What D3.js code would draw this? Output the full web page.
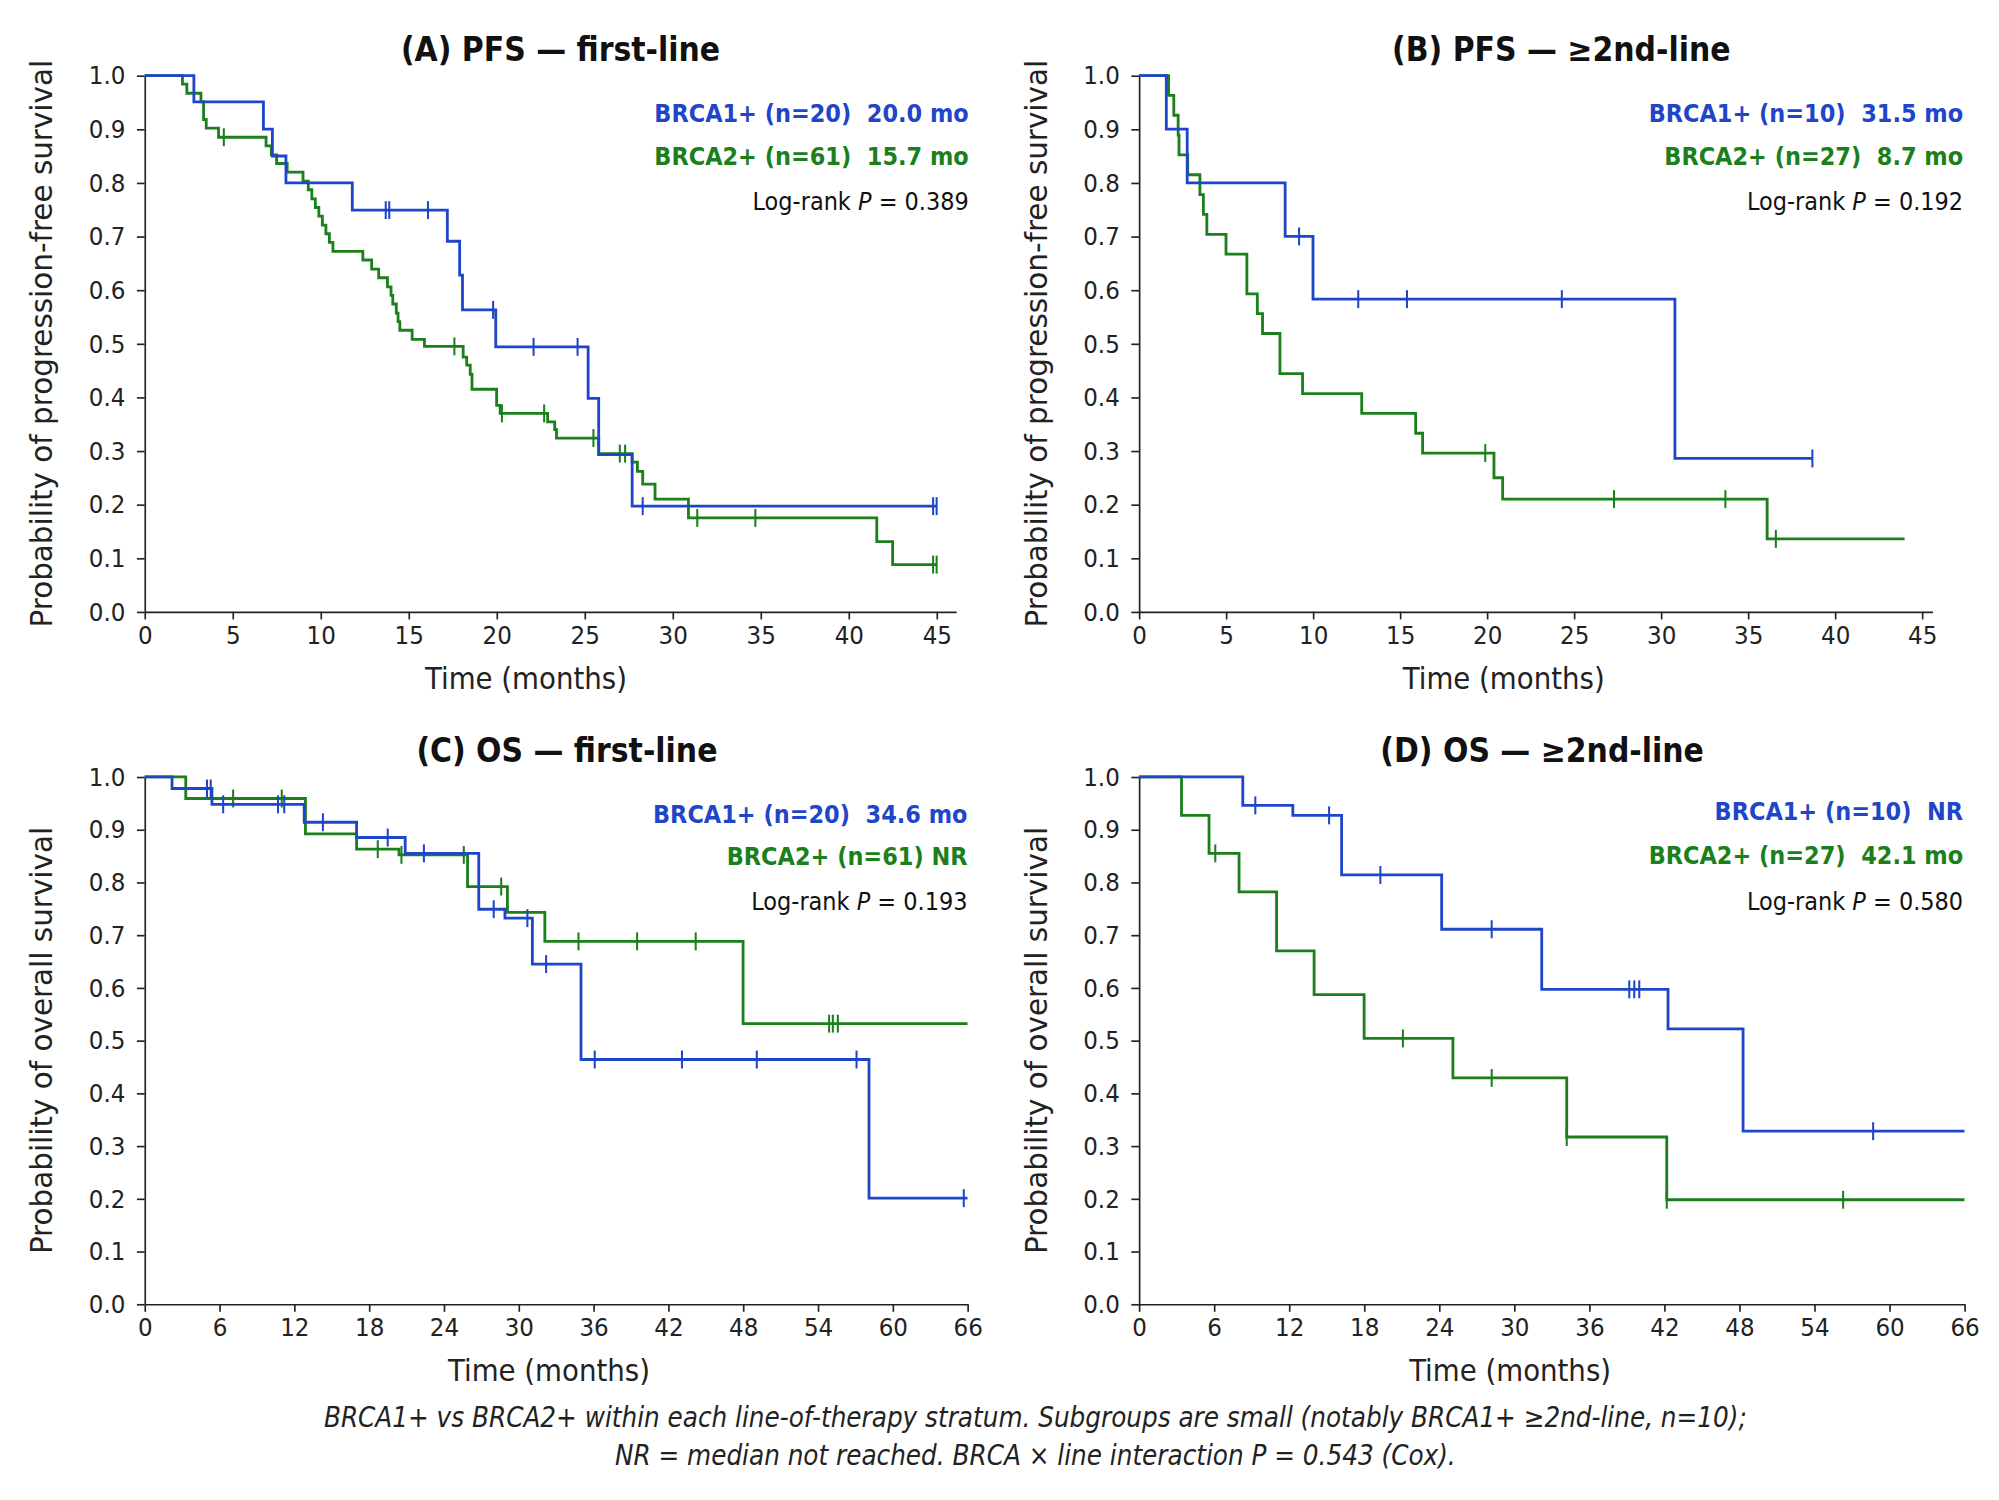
<!DOCTYPE html>
<html><head><meta charset="utf-8">
<script src="https://cdn.jsdelivr.net/npm/d3@7"></script>
<style>body{margin:0;background:#fff}text{font-family:"DejaVu Sans Condensed","DejaVu Sans",sans-serif}</style>
</head><body>
<script>
// step points [time, survival] and censor times
var pfs1Blue = [[0,1],[2.8,0.951],[6.75,0.90],[7.26,0.85],[8.03,0.80],[11.8,0.749],[17.2,0.691],[17.9,0.628],[18.06,0.563],[19.95,0.494],[25.2,0.398],[25.8,0.293],[27.7,0.197],[45,0.197]];
var pfs1BlueCens = [13.7,13.9,16.1,19.8,22.1,24.6,28.3,44.8,45.0];
var pfs1Green = [[0,1],[2.15,0.984],[2.4,0.967],[3.2,0.951],[3.35,0.918],[3.5,0.902],[4.2,0.885],[6.9,0.869],[7.2,0.852],[7.5,0.836],[8.1,0.82],[9.0,0.803],[9.3,0.787],[9.5,0.77],[9.7,0.754],[9.9,0.738],[10.1,0.721],[10.3,0.705],[10.5,0.689],[10.7,0.672],[12.4,0.656],[12.9,0.639],[13.3,0.623],[13.8,0.606],[14.0,0.59],[14.1,0.574],[14.3,0.557],[14.4,0.541],[14.5,0.525],[15.2,0.508],[15.9,0.495],[18.1,0.475],[18.3,0.46],[18.5,0.443],[18.6,0.415],[20.0,0.385],[20.2,0.37],[22.9,0.354],[23.3,0.34],[23.4,0.324],[25.8,0.295],[27.7,0.279],[28.0,0.262],[28.3,0.238],[29.0,0.21],[30.9,0.175],[41.6,0.131],[42.5,0.088],[45,0.088]];
var pfs1GreenCens = [4.5,17.6,20.3,22.7,25.5,27.0,27.3,31.4,34.7,44.8,45.0];

var pfs2Blue = [[0,1],[1.57,0.9],[2.77,0.8],[8.4,0.7],[10.0,0.583],[30.8,0.286],[38.7,0.286]];
var pfs2BlueCens = [9.2,12.6,15.4,24.3,38.7];
var pfs2Green = [[0,1],[1.7,0.963],[2.0,0.926],[2.25,0.889],[2.3,0.852],[2.8,0.815],[3.5,0.778],[3.7,0.741],[3.9,0.704],[5.0,0.667],[6.2,0.593],[6.8,0.556],[7.1,0.519],[8.1,0.444],[9.4,0.407],[12.8,0.37],[15.9,0.333],[16.3,0.296],[20.4,0.25],[20.9,0.21],[36.1,0.136],[44.0,0.136]];
var pfs2GreenCens = [19.9,27.3,33.7,36.6];

var os1Blue = [[0,1],[2.2,0.978],[5.4,0.948],[12.8,0.914],[17.0,0.885],[20.9,0.855],[26.8,0.749],[28.9,0.732],[31.1,0.645],[35.0,0.464],[58.1,0.201],[66,0.201]];
var os1BlueCens = [5.0,5.3,6.3,10.7,11.2,14.3,19.5,22.4,28.0,30.7,32.2,36.1,43.1,49.1,57.1,65.7];
var os1Green = [[0,1],[3.3,0.959],[12.9,0.892],[17.0,0.863],[20.4,0.852],[25.9,0.792],[29.1,0.743],[32.1,0.688],[48.0,0.532],[66,0.532]];
var os1GreenCens = [7.1,11.0,18.7,20.6,25.6,28.6,34.8,39.5,44.2,54.9,55.2,55.6];

var os2Blue = [[0,1],[8.3,0.946],[12.3,0.927],[16.2,0.814],[24.2,0.711],[32.2,0.597],[42.3,0.522],[48.3,0.328],[66,0.328]];
var os2BlueCens = [9.3,15.2,19.3,28.2,39.2,39.6,40.0,58.7];
var os2Green = [[0,1],[3.4,0.927],[5.6,0.855],[8.0,0.782],[11.0,0.670],[14.0,0.587],[18.0,0.504],[25.1,0.429],[34.2,0.317],[42.2,0.198],[66,0.198]];
var os2GreenCens = [6.1,21.1,28.2,34.2,42.2,56.3];

var pfsTicksX = [0,5,10,15,20,25,30,35,40,45];
var osTicksX = [0,6,12,18,24,30,36,42,48,54,60,66];
var yTicks = [0,0.1,0.2,0.3,0.4,0.5,0.6,0.7,0.8,0.9,1.0];

var panels = [
  {title:"(A) PFS \u2014 first-line", ylab:"Probability of progression-free survival", xmax:46.1, xticks:pfsTicksX,
   blue:pfs1Blue, blueC:pfs1BlueCens, green:pfs1Green, greenC:pfs1GreenCens,
   leg1:"BRCA1+ (n=20)  20.0 mo", leg2:"BRCA2+ (n=61)  15.7 mo", p:"0.389",
   x0:113, x1:747, y0:478, y1:59, tx:438, ty:48, legX:757, legY:[95,129,164], xlabX:411},
  {title:"(B) PFS \u2014 \u22652nd-line", ylab:"Probability of progression-free survival", xmax:45.6, xticks:pfsTicksX,
   blue:pfs2Blue, blueC:pfs2BlueCens, green:pfs2Green, greenC:pfs2GreenCens,
   leg1:"BRCA1+ (n=10)  31.5 mo", leg2:"BRCA2+ (n=27)  8.7 mo", p:"0.192",
   x0:890, x1:1510, y0:478, y1:59, tx:1220, ty:48, legX:1534, legY:[95,129,164], xlabX:1175},
  {title:"(C) OS \u2014 first-line", ylab:"Probability of overall survival", xmax:66, xticks:osTicksX,
   blue:os1Blue, blueC:os1BlueCens, green:os1Green, greenC:os1GreenCens,
   leg1:"BRCA1+ (n=20)  34.6 mo", leg2:"BRCA2+ (n=61) NR", p:"0.193",
   x0:113, x1:756, y0:1019, y1:607, tx:443, ty:595, legX:756, legY:[643,676,711], xlabX:429},
  {title:"(D) OS \u2014 \u22652nd-line", ylab:"Probability of overall survival", xmax:66, xticks:osTicksX,
   blue:os2Blue, blueC:os2BlueCens, green:os2Green, greenC:os2GreenCens,
   leg1:"BRCA1+ (n=10)  NR", leg2:"BRCA2+ (n=27)  42.1 mo", p:"0.580",
   x0:890, x1:1535, y0:1019, y1:607, tx:1205, ty:595, legX:1534, legY:[641,675,711], xlabX:1180}
];

var BLUE = "#1f45c9", GREEN = "#1b7f1b";

var svg = d3.select("body").append("svg")
  .attr("width",1999).attr("height",1500)
  .attr("viewBox","0 0 1562 1172");

function valueAt(curve,t){
  var v = 1;
  for(var i=0;i<curve.length;i++){ if(curve[i][0]<=t) v = curve[i][1]; }
  return v;
}

panels.forEach(function(p){
  var x = d3.scaleLinear().domain([0,p.xmax]).range([p.x0,p.x1]);
  var y = d3.scaleLinear().domain([0,1]).range([p.y0,p.y1]);
  var g = svg.append("g");

  var ax = g.append("g").attr("transform","translate(0,"+p.y0+")")
    .call(d3.axisBottom(x).tickValues(p.xticks).tickSize(6).tickPadding(5).tickSizeOuter(0));
  var ay = g.append("g").attr("transform","translate("+p.x0+",0)")
    .call(d3.axisLeft(y).tickValues(yTicks).tickFormat(d3.format(".1f")).tickSize(6).tickPadding(9).tickSizeOuter(0));
  [ax,ay].forEach(function(a){
    a.selectAll("text").attr("font-size",20).attr("fill","#222");
    a.selectAll("line,path").attr("stroke","#222").attr("stroke-width",1.3);
  });

  var line = d3.line().x(function(d){return x(d[0]);}).y(function(d){return y(d[1]);}).curve(d3.curveStepAfter);
  [[p.green,p.greenC,GREEN],[p.blue,p.blueC,BLUE]].forEach(function(s){
    g.append("path").datum(s[0]).attr("d",line).attr("fill","none").attr("stroke",s[2]).attr("stroke-width",2.2);
    g.selectAll(null).data(s[1]).enter().append("line")
      .attr("x1",function(t){return x(t);}).attr("x2",function(t){return x(t);})
      .attr("y1",function(t){return y(valueAt(s[0],t))-7;})
      .attr("y2",function(t){return y(valueAt(s[0],t))+7;})
      .attr("stroke",s[2]).attr("stroke-width",1.6);
  });

  g.append("text").attr("x",p.tx).attr("y",p.ty).attr("text-anchor","middle")
    .attr("font-size",26).attr("font-weight","bold").attr("fill","#111").text(p.title);
  g.append("text").attr("x",p.xlabX).attr("y",p.y0+60).attr("text-anchor","middle")
    .attr("font-size",24).attr("fill","#222").text("Time (months)");
  var ylx = p.x0-72, yly = (p.y0+p.y1)/2;
  g.append("text").attr("transform","translate("+ylx+","+yly+") rotate(-90)").attr("text-anchor","middle")
    .attr("font-size",23).attr("fill","#222").style("font-family","'DejaVu Sans',sans-serif").text(p.ylab);

  var lx = p.legX;
  g.append("text").attr("x",lx).attr("y",p.legY[0]).attr("text-anchor","end").attr("font-size",19.5)
    .attr("font-weight","bold").attr("fill",BLUE).style("white-space","pre").text(p.leg1);
  g.append("text").attr("x",lx).attr("y",p.legY[1]).attr("text-anchor","end").attr("font-size",19.5)
    .attr("font-weight","bold").attr("fill",GREEN).style("white-space","pre").text(p.leg2);
  var pt = g.append("text").attr("x",lx).attr("y",p.legY[2]).attr("text-anchor","end").attr("font-size",19.5).attr("fill","#111");
  pt.append("tspan").text("Log-rank ");
  pt.append("tspan").attr("font-style","italic").text("P");
  pt.append("tspan").text(" = "+p.p);
});

var caption = ["BRCA1+ vs BRCA2+ within each line-of-therapy stratum. Subgroups are small (notably BRCA1+ \u22652nd-line, n=10);",
               "NR = median not reached. BRCA \u00d7 line interaction P = 0.543 (Cox)."];
svg.selectAll(".cap").data(caption).enter().append("text")
  .attr("x",809).attr("y",function(d,i){return 1115+i*30;}).attr("text-anchor","middle")
  .attr("font-size",21.5).attr("font-style","italic").attr("fill","#222").text(function(d){return d;});
</script>
</body></html>
